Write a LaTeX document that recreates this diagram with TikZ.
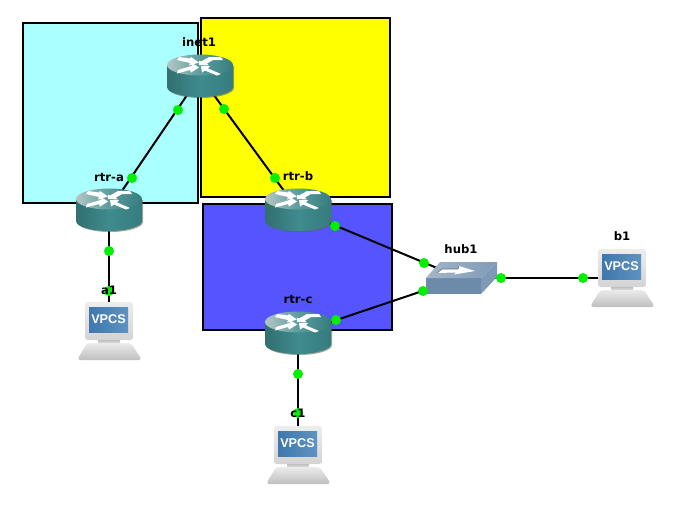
\documentclass[tikz,border=0pt]{standalone}
\usepackage{fontspec}
\setmainfont{Liberation Sans}
\newfontfamily\labelfont{DejaVu Sans}
\definecolor{zonecyan}{HTML}{AAFFFF}
\definecolor{zoneyellow}{HTML}{FFFF00}
\definecolor{zoneblue}{HTML}{5555FF}
\definecolor{routerteal}{HTML}{3F8B8D}
\definecolor{routerdark}{HTML}{367C7E}
\definecolor{routerlight}{HTML}{B4C6C6}
\definecolor{routershadow}{HTML}{5A6A50}
\definecolor{screenleft}{HTML}{3F78AE}
\definecolor{screenright}{HTML}{5F92BF}
\definecolor{hubfront}{HTML}{6C8BAB}
\definecolor{hubside}{HTML}{7F9AB6}
\definecolor{hublight}{HTML}{A3B6CA}
\definecolor{portgreen}{HTML}{00F000}
\tikzset{
    zone/.style={draw=black,line width=1.1pt},
    link/.style={draw=black,line width=1.5pt},
    portdot/.style={circle,fill=portgreen,inner sep=0pt,minimum size=7.5pt},
    devlabel/.style={inner sep=0pt,font=\labelfont\bfseries\fontsize{8.75}{10}\selectfont},
    routerbox/.style={inner sep=0pt,minimum width=36pt,minimum height=22pt},
    pcbox/.style={inner sep=0pt,minimum width=36pt,minimum height=42pt},
    hubbox/.style={inner sep=0pt,minimum width=36pt,minimum height=14pt},
    pics/router/.style={code={
        \fill[routershadow,opacity=.6] (-32,-10) -- (-32,12) .. controls (-32,17.5) and (-17,22) .. (1,22)
            .. controls (19,22) and (34,17.5) .. (34,12) -- (34,-10) -- cycle;
        \path[left color=routerteal!80!black,right color=routerdark,middle color=routerteal]
            (-33,-11) -- (-33,11) .. controls (-33,16.5) and (-18,21) .. (0,21)
            .. controls (18,21) and (33,16.5) .. (33,11) -- (33,-11) -- cycle;
        \path[left color=routerlight,right color=routerdark,middle color=routerteal!85!white]
            (0,-11) ellipse [x radius=33,y radius=10.5];
        \fill[white] (-21,-19) -- (-10,-17.5) -- (-9,-19) -- (-1,-13.5) -- (-11,-10.5) -- (-10,-13) -- (-23,-16) -- cycle;
        \fill[white] (21,-19) -- (9,-19) -- (1,-14.5) -- (-1,-15.5) -- (-1,-11) -- (9,-10.5) -- (7,-12.5) -- (13,-16) -- (23,-16) -- cycle;
        \fill[white] (-23,-2.5) -- (-10,-6) -- (-9,-3.5) -- (-1,-8.5) -- (-8,-13) -- (-8.5,-10) -- (-22,-6) -- cycle;
        \fill[white] (21,-2) -- (8,-7.5) -- (10,-10) -- (1,-10) -- (2,-3.5) -- (5,-5.5) -- (17,-0.5) -- cycle;
    }},
    pics/vpcspc/.style={code={
        \path[top color=black!7,bottom color=black!17,rounded corners=2pt] (-24,-28) rectangle (24,10);
        \path[top color=black!25,bottom color=black!10] (-11,10) rectangle (11,14);
        \path[top color=black!8,bottom color=black!25,rounded corners=2.5pt]
            (-22,13) -- (22,13) -- (33,30) -- (-32,30) -- cycle;
        \path[left color=screenleft,right color=screenright] (-20,-23) rectangle (19,2);
        \node[text=white,inner sep=0pt,font=\bfseries\fontsize{9.5}{10}\selectfont] (screen) at (-.5,-10.5) {VPCS};
    }},
    pics/hubswitch/.style={code={
        \fill[hubfront] (-35,0) -- (20,0) -- (20,16) -- (-35,16) -- cycle;
        \fill[hubside] (20,0) -- (36,-16) -- (36,-1) -- (20,16) -- cycle;
        \path[left color=hublight,right color=hubside] (-35,0) -- (-21,-16) -- (36,-16) -- (20,0) -- cycle;
        \fill[white] (-19,-9) -- (-3,-9) -- (-2,-12) -- (14,-7) -- (-7,-3.5) -- (-5,-5.5) -- (-24,-5) -- cycle;
        \draw[black!60,line width=.4pt] (-24,-5) -- (-19,-9) -- (-3,-9) -- (-2,-12);
    }},
}
\begin{document}
\begin{tikzpicture}[x=0.75pt,y=-0.75pt]
    \useasboundingbox (0,0) rectangle (678,526);

    \draw[zone,fill=zonecyan] (23,23) rectangle (198,203);
    \draw[zone,fill=zoneyellow] (201,18) rectangle (390,197);
    \draw[zone,fill=zoneblue] (203,204) rectangle (392,330);

    \node[routerbox] (inet1) at (200,76) {};
    \node[routerbox] (rtra) at (109,210) {};
    \node[routerbox] (rtrb) at (298,210) {};
    \node[routerbox] (rtrc) at (298,333) {};
    \node[hubbox] (hub1) at (461,278) {};
    \node[pcbox] (a1) at (109,330) {};
    \node[pcbox] (b1) at (622,278) {};
    \node[pcbox] (c1) at (298,454) {};

    \draw[link] (inet1) -- (rtra);
    \draw[link] (inet1) -- (rtrb);
    \draw[link] (rtra) -- (a1);
    \draw[link] (rtrb) -- (hub1);
    \draw[link] (rtrc) -- (hub1);
    \draw[link] (rtrc) -- (c1);
    \draw[link] (hub1) -- (b1);

    \pic (picinet) at (200,76) {router};
    \pic (picrtra) at (109,210) {router};
    \pic (picrtrb) at (298,210) {router};
    \pic (picrtrc) at (298,333) {router};
    \pic (pichub) at (461,278) {hubswitch};
    \pic (pica) at (109,330) {vpcspc};
    \pic (picb) at (622,277) {vpcspc};
    \pic (picc) at (298,454) {vpcspc};

    \node[portdot] (p1) at (178,110) {};
    \node[portdot] (p2) at (224,109) {};
    \node[portdot] (p3) at (132,178) {};
    \node[portdot] (p4) at (275,178) {};
    \node[portdot] (p5) at (109,251) {};
    \node[portdot] (p6) at (109,291) {};
    \node[portdot] (p7) at (335,226) {};
    \node[portdot] (p8) at (424,263) {};
    \node[portdot] (p9) at (336,320) {};
    \node[portdot] (p10) at (423,291) {};
    \node[portdot] (p11) at (501,278) {};
    \node[portdot] (p12) at (583,278) {};
    \node[portdot] (p13) at (298,374) {};
    \node[portdot] (p14) at (298,413) {};

    \node[devlabel] (linet1) at (199,42) {inet1};
    \node[devlabel] (lrtra) at (109,177) {rtr-a};
    \node[devlabel] (lrtrb) at (298,176) {rtr-b};
    \node[devlabel] (lrtrc) at (298,299) {rtr-c};
    \node[devlabel] (lhub1) at (461,249) {hub1};
    \node[devlabel] (la1) at (109,290) {a1};
    \node[devlabel] (lb1) at (622,236) {b1};
    \node[devlabel] (lc1) at (298,413) {c1};
\end{tikzpicture}
\end{document}
